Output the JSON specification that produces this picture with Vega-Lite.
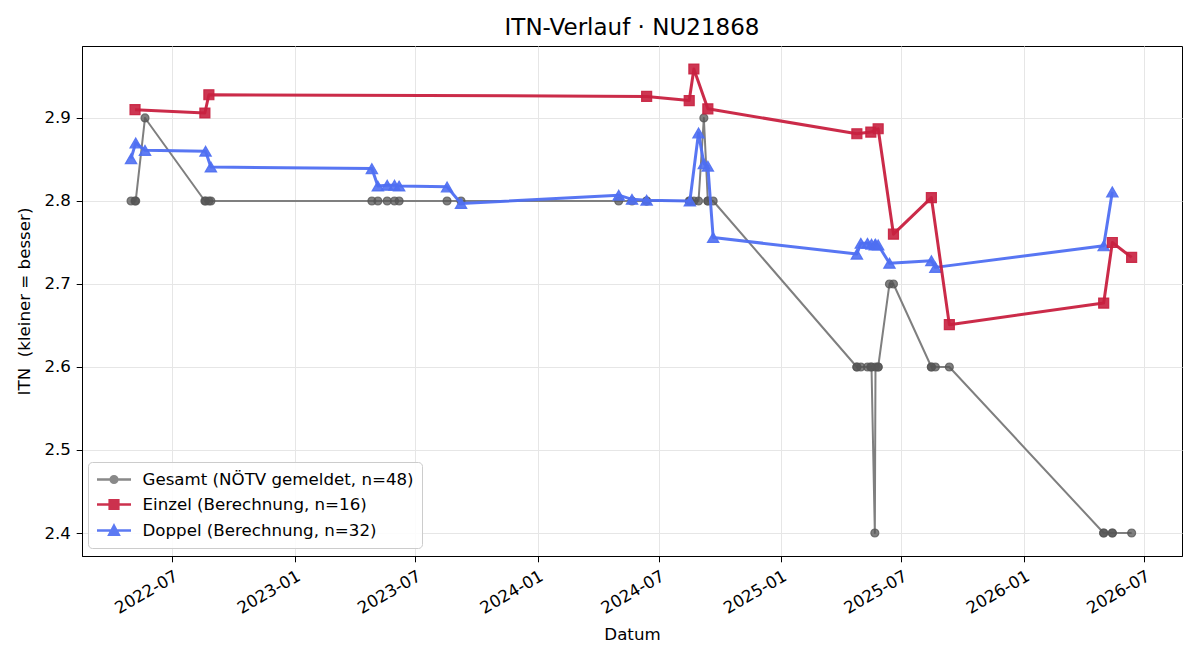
{
  "$schema": "https://vega.github.io/schema/vega-lite/v6.json",
  "width": 1100,
  "height": 510,
  "autosize": {"type": "none"},
  "padding": {"left": 82, "top": 46, "right": 18, "bottom": 104},
  "background": "white",
  "title": {"text": "ITN-Verlauf · NU21868", "fontSize": 23, "fontWeight": "normal", "font": "DejaVu Sans", "color": "black", "anchor": "middle", "frame": "group", "baseline": "alphabetic", "offset": 10, "dy": 22},
  "config": {
    "font": "DejaVu Sans",
    "view": {"stroke": "black", "strokeWidth": 1},
    "axis": {"domainColor": "black", "tickColor": "black", "labelColor": "black", "titleColor": "black", "gridColor": "#e6e6e6", "gridWidth": 1, "domainWidth": 1, "tickWidth": 1, "labelFont": "DejaVu Sans", "titleFont": "DejaVu Sans", "labelFontSize": 16.67, "titleFontSize": 16.67, "titleFontWeight": "normal", "grid": true}
  },
  "data": {"values": [
    {"date": "2022-04-30", "series": "Gesamt (NÖTV gemeldet, n=48)", "itn": 2.8},
    {"date": "2022-05-06", "series": "Gesamt (NÖTV gemeldet, n=48)", "itn": 2.8},
    {"date": "2022-05-07", "series": "Gesamt (NÖTV gemeldet, n=48)", "itn": 2.8},
    {"date": "2022-05-21", "series": "Gesamt (NÖTV gemeldet, n=48)", "itn": 2.9},
    {"date": "2022-08-19", "series": "Gesamt (NÖTV gemeldet, n=48)", "itn": 2.8},
    {"date": "2022-08-20", "series": "Gesamt (NÖTV gemeldet, n=48)", "itn": 2.8},
    {"date": "2022-08-25", "series": "Gesamt (NÖTV gemeldet, n=48)", "itn": 2.8},
    {"date": "2022-08-28", "series": "Gesamt (NÖTV gemeldet, n=48)", "itn": 2.8},
    {"date": "2023-04-27", "series": "Gesamt (NÖTV gemeldet, n=48)", "itn": 2.8},
    {"date": "2023-05-06", "series": "Gesamt (NÖTV gemeldet, n=48)", "itn": 2.8},
    {"date": "2023-05-20", "series": "Gesamt (NÖTV gemeldet, n=48)", "itn": 2.8},
    {"date": "2023-05-31", "series": "Gesamt (NÖTV gemeldet, n=48)", "itn": 2.8},
    {"date": "2023-06-07", "series": "Gesamt (NÖTV gemeldet, n=48)", "itn": 2.8},
    {"date": "2023-08-18", "series": "Gesamt (NÖTV gemeldet, n=48)", "itn": 2.8},
    {"date": "2023-09-08", "series": "Gesamt (NÖTV gemeldet, n=48)", "itn": 2.8},
    {"date": "2024-05-02", "series": "Gesamt (NÖTV gemeldet, n=48)", "itn": 2.8},
    {"date": "2024-05-22", "series": "Gesamt (NÖTV gemeldet, n=48)", "itn": 2.8},
    {"date": "2024-06-13", "series": "Gesamt (NÖTV gemeldet, n=48)", "itn": 2.8},
    {"date": "2024-06-13", "series": "Gesamt (NÖTV gemeldet, n=48)", "itn": 2.8},
    {"date": "2024-08-16", "series": "Gesamt (NÖTV gemeldet, n=48)", "itn": 2.8},
    {"date": "2024-08-17", "series": "Gesamt (NÖTV gemeldet, n=48)", "itn": 2.8},
    {"date": "2024-08-23", "series": "Gesamt (NÖTV gemeldet, n=48)", "itn": 2.8},
    {"date": "2024-08-30", "series": "Gesamt (NÖTV gemeldet, n=48)", "itn": 2.8},
    {"date": "2024-09-07", "series": "Gesamt (NÖTV gemeldet, n=48)", "itn": 2.9},
    {"date": "2024-09-13", "series": "Gesamt (NÖTV gemeldet, n=48)", "itn": 2.8},
    {"date": "2024-09-13", "series": "Gesamt (NÖTV gemeldet, n=48)", "itn": 2.8},
    {"date": "2024-09-21", "series": "Gesamt (NÖTV gemeldet, n=48)", "itn": 2.8},
    {"date": "2025-04-25", "series": "Gesamt (NÖTV gemeldet, n=48)", "itn": 2.6},
    {"date": "2025-04-25", "series": "Gesamt (NÖTV gemeldet, n=48)", "itn": 2.6},
    {"date": "2025-05-01", "series": "Gesamt (NÖTV gemeldet, n=48)", "itn": 2.6},
    {"date": "2025-05-11", "series": "Gesamt (NÖTV gemeldet, n=48)", "itn": 2.6},
    {"date": "2025-05-16", "series": "Gesamt (NÖTV gemeldet, n=48)", "itn": 2.6},
    {"date": "2025-05-17", "series": "Gesamt (NÖTV gemeldet, n=48)", "itn": 2.6},
    {"date": "2025-05-22", "series": "Gesamt (NÖTV gemeldet, n=48)", "itn": 2.4},
    {"date": "2025-05-23", "series": "Gesamt (NÖTV gemeldet, n=48)", "itn": 2.6},
    {"date": "2025-05-27", "series": "Gesamt (NÖTV gemeldet, n=48)", "itn": 2.6},
    {"date": "2025-05-27", "series": "Gesamt (NÖTV gemeldet, n=48)", "itn": 2.6},
    {"date": "2025-06-13", "series": "Gesamt (NÖTV gemeldet, n=48)", "itn": 2.7},
    {"date": "2025-06-19", "series": "Gesamt (NÖTV gemeldet, n=48)", "itn": 2.7},
    {"date": "2025-08-15", "series": "Gesamt (NÖTV gemeldet, n=48)", "itn": 2.6},
    {"date": "2025-08-15", "series": "Gesamt (NÖTV gemeldet, n=48)", "itn": 2.6},
    {"date": "2025-08-21", "series": "Gesamt (NÖTV gemeldet, n=48)", "itn": 2.6},
    {"date": "2025-09-11", "series": "Gesamt (NÖTV gemeldet, n=48)", "itn": 2.6},
    {"date": "2026-05-01", "series": "Gesamt (NÖTV gemeldet, n=48)", "itn": 2.4},
    {"date": "2026-05-01", "series": "Gesamt (NÖTV gemeldet, n=48)", "itn": 2.4},
    {"date": "2026-05-14", "series": "Gesamt (NÖTV gemeldet, n=48)", "itn": 2.4},
    {"date": "2026-05-14", "series": "Gesamt (NÖTV gemeldet, n=48)", "itn": 2.4},
    {"date": "2026-06-12", "series": "Gesamt (NÖTV gemeldet, n=48)", "itn": 2.4},

    {"date": "2022-05-06", "series": "Einzel (Berechnung, n=16)", "itn": 2.910},
    {"date": "2022-08-19", "series": "Einzel (Berechnung, n=16)", "itn": 2.906},
    {"date": "2022-08-25", "series": "Einzel (Berechnung, n=16)", "itn": 2.928},
    {"date": "2024-06-13", "series": "Einzel (Berechnung, n=16)", "itn": 2.926},
    {"date": "2024-08-16", "series": "Einzel (Berechnung, n=16)", "itn": 2.921},
    {"date": "2024-08-23", "series": "Einzel (Berechnung, n=16)", "itn": 2.959},
    {"date": "2024-09-13", "series": "Einzel (Berechnung, n=16)", "itn": 2.911},
    {"date": "2025-04-25", "series": "Einzel (Berechnung, n=16)", "itn": 2.881},
    {"date": "2025-05-16", "series": "Einzel (Berechnung, n=16)", "itn": 2.883},
    {"date": "2025-05-27", "series": "Einzel (Berechnung, n=16)", "itn": 2.887},
    {"date": "2025-06-19", "series": "Einzel (Berechnung, n=16)", "itn": 2.760},
    {"date": "2025-08-15", "series": "Einzel (Berechnung, n=16)", "itn": 2.804},
    {"date": "2025-09-11", "series": "Einzel (Berechnung, n=16)", "itn": 2.651},
    {"date": "2026-05-01", "series": "Einzel (Berechnung, n=16)", "itn": 2.677},
    {"date": "2026-05-14", "series": "Einzel (Berechnung, n=16)", "itn": 2.750},
    {"date": "2026-06-12", "series": "Einzel (Berechnung, n=16)", "itn": 2.732},

    {"date": "2022-04-30", "series": "Doppel (Berechnung, n=32)", "itn": 2.851},
    {"date": "2022-05-07", "series": "Doppel (Berechnung, n=32)", "itn": 2.870},
    {"date": "2022-05-21", "series": "Doppel (Berechnung, n=32)", "itn": 2.861},
    {"date": "2022-08-20", "series": "Doppel (Berechnung, n=32)", "itn": 2.860},
    {"date": "2022-08-28", "series": "Doppel (Berechnung, n=32)", "itn": 2.841},
    {"date": "2023-04-27", "series": "Doppel (Berechnung, n=32)", "itn": 2.839},
    {"date": "2023-05-06", "series": "Doppel (Berechnung, n=32)", "itn": 2.818},
    {"date": "2023-05-20", "series": "Doppel (Berechnung, n=32)", "itn": 2.819},
    {"date": "2023-05-31", "series": "Doppel (Berechnung, n=32)", "itn": 2.819},
    {"date": "2023-06-07", "series": "Doppel (Berechnung, n=32)", "itn": 2.818},
    {"date": "2023-08-18", "series": "Doppel (Berechnung, n=32)", "itn": 2.817},
    {"date": "2023-09-08", "series": "Doppel (Berechnung, n=32)", "itn": 2.797},
    {"date": "2024-05-02", "series": "Doppel (Berechnung, n=32)", "itn": 2.807},
    {"date": "2024-05-22", "series": "Doppel (Berechnung, n=32)", "itn": 2.802},
    {"date": "2024-06-13", "series": "Doppel (Berechnung, n=32)", "itn": 2.801},
    {"date": "2024-08-17", "series": "Doppel (Berechnung, n=32)", "itn": 2.800},
    {"date": "2024-08-30", "series": "Doppel (Berechnung, n=32)", "itn": 2.882},
    {"date": "2024-09-07", "series": "Doppel (Berechnung, n=32)", "itn": 2.845},
    {"date": "2024-09-13", "series": "Doppel (Berechnung, n=32)", "itn": 2.842},
    {"date": "2024-09-21", "series": "Doppel (Berechnung, n=32)", "itn": 2.756},
    {"date": "2025-04-25", "series": "Doppel (Berechnung, n=32)", "itn": 2.736},
    {"date": "2025-05-01", "series": "Doppel (Berechnung, n=32)", "itn": 2.749},
    {"date": "2025-05-11", "series": "Doppel (Berechnung, n=32)", "itn": 2.749},
    {"date": "2025-05-17", "series": "Doppel (Berechnung, n=32)", "itn": 2.748},
    {"date": "2025-05-22", "series": "Doppel (Berechnung, n=32)", "itn": 2.747},
    {"date": "2025-05-23", "series": "Doppel (Berechnung, n=32)", "itn": 2.748},
    {"date": "2025-05-27", "series": "Doppel (Berechnung, n=32)", "itn": 2.747},
    {"date": "2025-06-13", "series": "Doppel (Berechnung, n=32)", "itn": 2.725},
    {"date": "2025-08-15", "series": "Doppel (Berechnung, n=32)", "itn": 2.728},
    {"date": "2025-08-21", "series": "Doppel (Berechnung, n=32)", "itn": 2.720},
    {"date": "2026-05-01", "series": "Doppel (Berechnung, n=32)", "itn": 2.746},
    {"date": "2026-05-14", "series": "Doppel (Berechnung, n=32)", "itn": 2.811}
  ]},
  "encoding": {
    "x": {"field": "date", "type": "temporal",
      "scale": {"type": "utc", "nice": false, "domain": [{"year": 2022, "month": 2, "date": 15, "hours": 7, "utc": true}, {"year": 2026, "month": 8, "date": 26, "hours": 17, "utc": true}]},
      "axis": {"title": "Datum", "format": "%Y-%m",
        "values": [
          {"year": 2022, "month": 7, "date": 1, "utc": true},
          {"year": 2023, "month": 1, "date": 1, "utc": true},
          {"year": 2023, "month": 7, "date": 1, "utc": true},
          {"year": 2024, "month": 1, "date": 1, "utc": true},
          {"year": 2024, "month": 7, "date": 1, "utc": true},
          {"year": 2025, "month": 1, "date": 1, "utc": true},
          {"year": 2025, "month": 7, "date": 1, "utc": true},
          {"year": 2026, "month": 1, "date": 1, "utc": true},
          {"year": 2026, "month": 7, "date": 1, "utc": true}
        ],
        "labelAngle": -30, "labelAlign": "right", "labelBaseline": "top", "labelDx": -7, "labelPadding": 5.8, "tickSize": 5.8,
        "labelOverlap": false, "labelFlush": false, "titleY": 83, "titleBaseline": "alphabetic"}},
    "y": {"field": "itn", "type": "quantitative",
      "scale": {"domain": [2.3723, 2.9867], "zero": false, "nice": false},
      "axis": {"title": "ITN \u00a0(kleiner = besser)", "values": [2.4, 2.5, 2.6, 2.7, 2.8, 2.9], "format": ".1f", "tickSize": 5.8, "labelPadding": 5.8,
        "titleAngle": 270, "titleX": -53, "titleY": 255, "titleAlign": "center", "titleBaseline": "alphabetic"}}
  },
  "layer": [
    {"transform": [{"filter": "false"}],
     "mark": {"type": "point", "filled": true},
     "encoding": {
       "color": {"field": "series", "type": "nominal",
         "scale": {"domain": ["Gesamt (NÖTV gemeldet, n=48)", "Einzel (Berechnung, n=16)", "Doppel (Berechnung, n=32)"], "range": ["#7f7f7f", "#c8203f", "#4f6ff2"]},
         "legend": {"title": null, "orient": "none", "legendX": 6, "legendY": 416, "direction": "vertical", "labelFontSize": 16.67, "labelFont": "DejaVu Sans", "labelColor": "black", "labelLimit": 500, "symbolSize": 289, "labelOffset": 27, "rowPadding": 6, "padding": 7.5, "fillColor": "rgba(255,255,255,0.85)", "strokeColor": "#cccccc", "cornerRadius": 4, "symbolStrokeWidth": 2.5, "symbolOpacity": 0.92}},
       "stroke": {"field": "series", "type": "nominal",
         "scale": {"domain": ["Gesamt (NÖTV gemeldet, n=48)", "Einzel (Berechnung, n=16)", "Doppel (Berechnung, n=32)"], "range": ["#7f7f7f", "#c8203f", "#4f6ff2"]},
         "legend": {"title": null, "orient": "none", "legendX": 6, "legendY": 416, "direction": "vertical", "labelFontSize": 16.67, "labelFont": "DejaVu Sans", "labelColor": "black", "labelLimit": 500, "symbolSize": 289, "labelOffset": 27, "rowPadding": 6, "padding": 7.5, "fillColor": "rgba(255,255,255,0.85)", "strokeColor": "#cccccc", "cornerRadius": 4, "symbolStrokeWidth": 2.5, "symbolOpacity": 0.92}},
       "shape": {"field": "series", "type": "nominal",
         "scale": {"domain": ["Gesamt (NÖTV gemeldet, n=48)", "Einzel (Berechnung, n=16)", "Doppel (Berechnung, n=32)"],
           "range": ["M-1,0L3,0M0.61,0A0.39,0.39,0,1,1,1.39,0A0.39,0.39,0,1,1,0.61,0Z", "M-1,0L3,0M0.49,-0.51L1.51,-0.51L1.51,0.51L0.49,0.51Z", "M-1,0L3,0M1,-0.56L1.56,0.5L0.44,0.5Z"]},
         "legend": {"title": null, "orient": "none", "legendX": 6, "legendY": 416, "direction": "vertical", "labelFontSize": 16.67, "labelFont": "DejaVu Sans", "labelColor": "black", "labelLimit": 500, "symbolSize": 289, "labelOffset": 27, "rowPadding": 6, "padding": 7.5, "fillColor": "rgba(255,255,255,0.85)", "strokeColor": "#cccccc", "cornerRadius": 4, "symbolStrokeWidth": 2.5, "symbolOpacity": 0.92}}
     }},
    {"transform": [{"filter": {"field": "series", "equal": "Gesamt (NÖTV gemeldet, n=48)"}}],
     "mark": {"type": "line", "strokeWidth": 2, "opacity": 1, "strokeJoin": "round"},
     "encoding": {"color": {"field": "series", "type": "nominal", "legend": null}}},
    {"transform": [{"filter": {"field": "series", "equal": "Gesamt (NÖTV gemeldet, n=48)"}}],
     "mark": {"type": "point", "shape": "circle", "filled": true, "size": 64, "fill": "#555555", "stroke": "#555555", "strokeWidth": 1.2, "fillOpacity": 0.75, "strokeOpacity": 0.75}},
    {"transform": [{"filter": {"field": "series", "equal": "Doppel (Berechnung, n=32)"}}],
     "mark": {"type": "line", "strokeWidth": 3, "opacity": 0.95, "strokeJoin": "round"},
     "encoding": {"color": {"field": "series", "type": "nominal", "legend": null}}},
    {"transform": [{"filter": {"field": "series", "equal": "Doppel (Berechnung, n=32)"}}],
     "mark": {"type": "point", "shape": "triangle-up", "filled": true, "size": 130, "fill": "#4f6ff2", "stroke": "#4f6ff2", "strokeWidth": 1.2, "fillOpacity": 0.9, "strokeOpacity": 0.9}},
    {"transform": [{"filter": {"field": "series", "equal": "Einzel (Berechnung, n=16)"}}],
     "mark": {"type": "line", "strokeWidth": 3, "opacity": 0.95, "strokeJoin": "round"},
     "encoding": {"color": {"field": "series", "type": "nominal", "legend": null}}},
    {"transform": [{"filter": {"field": "series", "equal": "Einzel (Berechnung, n=16)"}}],
     "mark": {"type": "point", "shape": "square", "filled": true, "size": 100, "fill": "#c8203f", "stroke": "#c8203f", "strokeWidth": 1.2, "fillOpacity": 0.9, "strokeOpacity": 0.9}}
  ]
}
